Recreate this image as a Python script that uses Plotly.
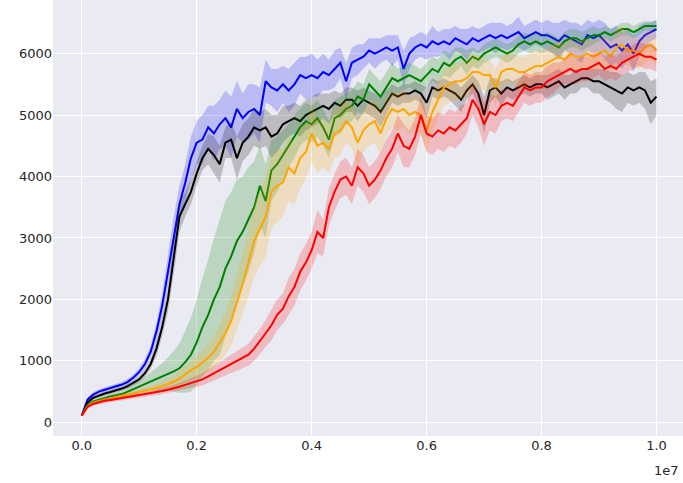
import plotly.graph_objects as go

# training steps, one sample every 1e5 steps (0 .. 1e7)
STEPS = [i * 100000 for i in range(101)]

BLUE_MEAN = [
    110, 370, 450, 500, 530, 555, 585, 615, 660, 730,
    820, 950, 1150, 1480, 1900, 2450, 3050, 3550, 3900, 4300,
    4550, 4600, 4800, 4700, 4850, 4950, 4800, 5100, 4950, 5050,
    5100, 5000, 5550, 5450, 5400, 5500, 5400, 5500, 5650, 5600,
    5650, 5600, 5700, 5650, 5750, 5850, 5550, 5850, 5900, 5950,
    6050, 6000, 6050, 6100, 6050, 6100, 5750, 6000, 6100, 6150,
    6100, 6200, 6150, 6200, 6150, 6250, 6200, 6150, 6250, 6200,
    6250, 6300, 6250, 6300, 6250, 6300, 6350, 6250, 6300, 6350,
    6300, 6300, 6250, 6200, 6300, 6250, 6200, 6150, 6300, 6250,
    6300, 6200, 6100, 6150, 6050, 6150, 6000, 6200, 6300, 6350,
    6400,
]
BLUE_SPREAD = [
    10, 40, 40, 40, 40, 40, 40, 40, 50, 50,
    60, 80, 100, 150, 200, 250, 300, 300, 300, 350,
    350, 400, 350, 450, 400, 450, 500, 450, 400, 450,
    400, 450, 350, 300, 350, 300, 350, 350, 300, 350,
    350, 300, 300, 250, 300, 250, 300, 250, 250, 200,
    200, 250, 200, 200, 250, 200, 300, 250, 200, 200,
    200, 250, 200, 200, 250, 200, 200, 250, 200, 200,
    200, 200, 250, 200, 200, 200, 250, 200, 200, 200,
    200, 250, 250, 300, 250, 250, 300, 300, 250, 250,
    250, 300, 300, 300, 300, 250, 300, 250, 200, 150,
    150,
]

BLACK_MEAN = [
    110, 320, 400, 440, 470, 495, 520, 550, 590, 640,
    700, 800, 950, 1200, 1550, 2000, 2650, 3350, 3550, 3750,
    4050, 4300, 4450, 4350, 4200, 4550, 4600, 4300, 4550, 4650,
    4800, 4750, 4800, 4650, 4700, 4850, 4900, 4950, 4900, 5000,
    5050, 5100, 5150, 5100, 5200, 5150, 5250, 5250, 5150, 5250,
    5200, 5150, 5050, 5200, 5350, 5300, 5350, 5350, 5400, 5350,
    5200, 5450, 5400, 5450, 5400, 5350, 5250, 5400, 5500, 5350,
    5000, 5400, 5450, 5350, 5450, 5400, 5450, 5500, 5450, 5500,
    5500, 5450, 5500, 5550, 5450, 5500, 5550, 5600, 5600, 5550,
    5550, 5500, 5450, 5400, 5350, 5450, 5400, 5450, 5400, 5200,
    5300,
]
BLACK_SPREAD = [
    10, 30, 30, 30, 30, 30, 30, 30, 40, 40,
    50, 60, 80, 120, 150, 200, 250, 250, 200, 200,
    200, 200, 250, 300, 300, 250, 300, 350, 300, 300,
    300, 300, 300, 350, 300, 300, 250, 250, 250, 250,
    250, 250, 200, 250, 200, 200, 200, 200, 250, 200,
    200, 200, 250, 200, 150, 150, 150, 150, 150, 150,
    250, 150, 150, 150, 150, 200, 200, 150, 150, 200,
    300, 200, 150, 200, 150, 150, 150, 150, 150, 150,
    150, 200, 200, 200, 200, 150, 200, 150, 150, 200,
    200, 250, 250, 300, 300, 250, 250, 250, 300, 350,
    300,
]

GREEN_MEAN = [
    110, 280, 340, 370, 400, 420, 440, 460, 500, 540,
    580, 620, 660, 700, 740, 790, 830, 880, 980, 1100,
    1300, 1550, 1750, 2000, 2200, 2500, 2700, 2950, 3100, 3300,
    3500, 3850, 3600, 4100, 4200, 4350, 4500, 4650, 4800, 4900,
    4850, 4950, 4800, 4600, 4950, 5000, 5100, 5150, 5300, 5250,
    5500, 5400, 5300, 5450, 5600, 5550, 5600, 5650, 5600, 5550,
    5650, 5750, 5700, 5850, 5800, 5900, 5950, 5850, 5950, 5900,
    6000, 6050, 6100, 6050, 6000, 6050, 6150, 6200, 6150, 6200,
    6150, 6200, 6150, 6100, 6200, 6250, 6250, 6200, 6250, 6300,
    6300, 6350, 6300, 6350, 6400, 6400, 6350, 6400, 6450, 6450,
    6450,
]
GREEN_SPREAD = [
    10, 30, 30, 30, 40, 40, 50, 60, 70, 80,
    100, 120, 150, 180, 220, 270, 330, 400, 500, 600,
    700, 800, 900, 1000, 1100, 1100, 1050, 1000, 900, 850,
    750, 650, 600, 500, 450, 400, 350, 350, 300, 300,
    300, 300, 300, 300, 300, 300, 250, 250, 250, 250,
    250, 250, 250, 250, 250, 200, 200, 200, 200, 200,
    200, 200, 200, 200, 200, 200, 150, 200, 150, 150,
    150, 150, 150, 150, 150, 150, 150, 150, 150, 150,
    150, 150, 150, 150, 150, 150, 150, 150, 150, 150,
    100, 100, 100, 100, 100, 100, 100, 100, 80, 80,
    80,
]

ORANGE_MEAN = [
    110, 260, 320, 350, 370, 390, 410, 430, 450, 470,
    490, 510, 530, 560, 590, 620, 660, 710, 780, 850,
    900, 970, 1050, 1150, 1300, 1450, 1650, 1950, 2250, 2600,
    2950, 3150, 3350, 3750, 3850, 3900, 4150, 4050, 4300, 4400,
    4700, 4500, 4550, 4450, 4700, 4750, 4900, 4800, 4550, 4750,
    4850, 4900, 4700, 4950, 5100, 5050, 5100, 5000, 5050, 5000,
    4750, 5050, 5250, 5450, 5500, 5550, 5550, 5600, 5700, 5700,
    5650, 5650, 5450, 5700, 5750, 5750, 5700, 5700, 5750, 5800,
    5800, 5850, 5900, 5950, 5900, 6000, 5950, 5950, 6000, 5950,
    6000, 6050, 5950, 6100, 6150, 6050, 6050, 6000, 6100, 6150,
    6050,
]
ORANGE_SPREAD = [
    10, 30, 30, 30, 30, 30, 30, 40, 40, 40,
    50, 50, 60, 70, 80, 90, 100, 120, 140, 160,
    180, 200, 230, 260, 300, 350, 400, 450, 500, 550,
    600, 600, 650, 600, 600, 550, 550, 500, 500, 450,
    450, 450, 400, 400, 400, 400, 350, 350, 400, 350,
    350, 350, 350, 300, 300, 300, 300, 300, 300, 300,
    350, 300, 300, 300, 300, 300, 300, 300, 300, 250,
    250, 250, 300, 250, 250, 250, 250, 250, 250, 250,
    250, 250, 250, 250, 250, 250, 250, 250, 250, 250,
    250, 250, 250, 300, 300, 250, 250, 250, 250, 250,
    250,
]

RED_MEAN = [
    110, 250, 300, 330, 350, 365, 380, 395, 410, 425,
    440, 455, 470, 490, 510, 530, 550, 580, 610, 640,
    670, 700, 750, 800, 850, 900, 940, 1000, 1050, 1100,
    1200, 1320, 1450, 1580, 1750, 1850, 2050, 2200, 2450, 2600,
    2800, 3100, 3000, 3500, 3750, 3950, 4000, 3850, 4150, 4050,
    3850, 3950, 4100, 4300, 4450, 4700, 4500, 4450, 4650, 5000,
    4700, 4650, 4750, 4700, 4800, 4750, 4850, 4950, 5250, 5100,
    4850, 5050, 5000, 5150, 5200, 5150, 5300, 5450, 5400, 5450,
    5450, 5550, 5600, 5650, 5700, 5750, 5700, 5750, 5750, 5800,
    5850, 5750, 5800, 5750, 5850, 5900, 5950, 6000, 5950, 5950,
    5900,
]
RED_SPREAD = [
    10, 30, 30, 30, 30, 30, 30, 30, 30, 30,
    40, 40, 40, 50, 50, 50, 60, 60, 70, 80,
    90, 100, 110, 120, 130, 140, 150, 160, 170, 180,
    200, 200, 220, 250, 250, 250, 300, 300, 300, 300,
    300, 350, 300, 300, 300, 300, 300, 300, 300, 300,
    300, 300, 300, 300, 300, 300, 350, 300, 300, 300,
    300, 300, 300, 300, 300, 300, 300, 250, 250, 300,
    350, 300, 300, 250, 250, 250, 250, 250, 250, 250,
    250, 250, 250, 200, 200, 250, 200, 200, 200, 200,
    200, 200, 200, 200, 200, 200, 200, 200, 200, 200,
    200,
]

X_TICKS = [0, 2000000, 4000000, 6000000, 8000000, 10000000]
X_TICK_TEXT = ["0.0", "0.2", "0.4", "0.6", "0.8", "1.0"]
Y_TICKS = [0, 1000, 2000, 3000, 4000, 5000, 6000]

SERIES = [
    (BLUE_MEAN, BLUE_SPREAD, "#0000ff", "rgba(0,0,255,0.2)"),
    (BLACK_MEAN, BLACK_SPREAD, "#000000", "rgba(0,0,0,0.2)"),
    (GREEN_MEAN, GREEN_SPREAD, "#008000", "rgba(0,128,0,0.2)"),
    (ORANGE_MEAN, ORANGE_SPREAD, "#ffa500", "rgba(255,165,0,0.2)"),
    (RED_MEAN, RED_SPREAD, "#ff0000", "rgba(255,0,0,0.2)"),
]

fig = go.Figure()

for mean, spread, line_color, band_color in SERIES:
    upper = [m + s for m, s in zip(mean, spread)]
    lower = [m - s for m, s in zip(mean, spread)]
    # shaded band first, then the mean line on top
    fig.add_trace(go.Scatter(
        x=STEPS + STEPS[::-1],
        y=upper + lower[::-1],
        fill="toself",
        fillcolor=band_color,
        line=dict(width=0),
        mode="lines",
        hoverinfo="skip",
        showlegend=False,
    ))
    fig.add_trace(go.Scatter(
        x=STEPS,
        y=mean,
        mode="lines",
        line=dict(color=line_color, width=2),
        showlegend=False,
    ))

# matplotlib-style offset text under the x axis
fig.add_annotation(
    text="1e7", xref="paper", yref="paper", x=0.997, y=-0.058,
    xanchor="right", yanchor="top", showarrow=False,
    font=dict(size=13, color="#262626"),
)

fig.update_layout(
    width=683,
    height=483,
    margin=dict(l=53, r=0, t=0, b=47, autoexpand=False),
    paper_bgcolor="white",
    plot_bgcolor="#EAEAF2",
    font=dict(family="DejaVu Sans", size=13, color="#262626"),
    xaxis=dict(
        range=[-500000, 10461000],
        tickvals=X_TICKS, ticktext=X_TICK_TEXT,
        showgrid=True, gridcolor="white", gridwidth=1.2,
        zeroline=False, showline=False, ticks="", automargin=False,
    ),
    yaxis=dict(
        range=[-222, 6872],
        tickvals=Y_TICKS,
        showgrid=True, gridcolor="white", gridwidth=1.2,
        zeroline=False, showline=False, ticks="", automargin=False,
    ),
)

# drop the page's default body margin so the figure fills the window
fig.write_html(
    "out.html",
    config={"displayModeBar": False},
    post_script="document.body.style.margin='0';"
                "document.body.style.overflow='hidden';",
)
